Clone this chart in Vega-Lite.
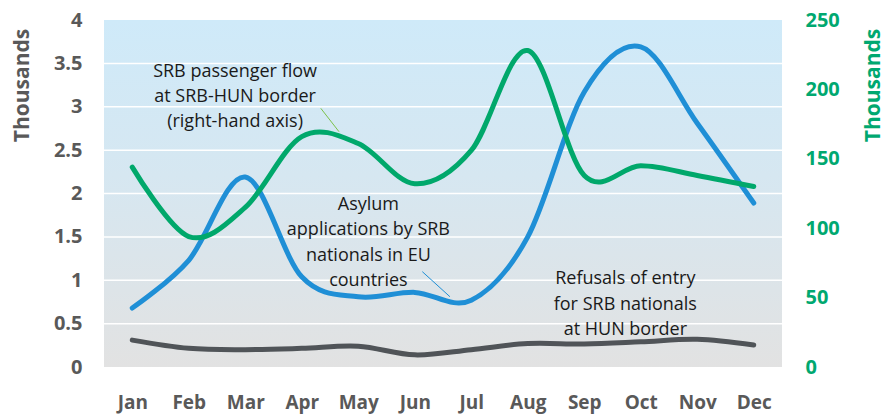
{
  "$schema": "https://vega.github.io/schema/vega-lite/v6.json",
  "width": 678,
  "height": 347,
  "autosize": {"type": "none"},
  "padding": {"left": 104, "top": 20, "right": 102, "bottom": 49},
  "background": "white",
  "config": {
    "view": {
      "stroke": null,
      "fill": {"gradient": "linear", "x1": 0, "y1": 0, "x2": 0, "y2": 1,
        "stops": [{"offset": 0, "color": "#cfeaf9"}, {"offset": 0.45, "color": "#d6e7f1"}, {"offset": 1, "color": "#e2e2e2"}]}
    },
    "axis": {"domain": false, "ticks": false, "grid": false, "labelFont": "Open Sans", "titleFont": "Open Sans"},
    "text": {"font": "Open Sans"}
  },
  "datasets": {
    "months": [
      {"m": 1, "month": "Jan", "asylum": 0.68, "refusals": 0.31, "flow": 144},
      {"m": 2, "month": "Feb", "asylum": 1.23, "refusals": 0.215, "flow": 94},
      {"m": 3, "month": "Mar", "asylum": 2.19, "refusals": 0.2, "flow": 115},
      {"m": 4, "month": "Apr", "asylum": 1.04, "refusals": 0.215, "flow": 166},
      {"m": 5, "month": "May", "asylum": 0.81, "refusals": 0.24, "flow": 161},
      {"m": 6, "month": "Jun", "asylum": 0.86, "refusals": 0.14, "flow": 132},
      {"m": 7, "month": "Jul", "asylum": 0.77, "refusals": 0.2, "flow": 156},
      {"m": 8, "month": "Aug", "asylum": 1.5, "refusals": 0.27, "flow": 228},
      {"m": 9, "month": "Sep", "asylum": 3.17, "refusals": 0.265, "flow": 138},
      {"m": 10, "month": "Oct", "asylum": 3.69, "refusals": 0.29, "flow": 145},
      {"m": 11, "month": "Nov", "asylum": 2.81, "refusals": 0.32, "flow": 138},
      {"m": 12, "month": "Dec", "asylum": 1.89, "refusals": 0.254, "flow": 130}
    ],
    "gridlines": [{"g": 0.5}, {"g": 1}, {"g": 1.5}, {"g": 2}, {"g": 2.5}, {"g": 3}, {"g": 3.5}],
    "notes": [
      {"x": 2.82, "y": 3.404, "label": "SRB passenger flow\nat SRB-HUN border\n(right-hand axis)"},
      {"x": 5.18, "y": 1.867, "label": "Asylum\napplications by SRB\nnationals in EU\ncountries"},
      {"x": 9.727, "y": 1.011, "label": "Refusals of entry\nfor SRB nationals\nat HUN border"}
    ],
    "connectors": [
      {"x": 4.337, "x2": 4.66, "y": 2.982, "y2": 2.712, "series": "flow"},
      {"x": 6.134, "x2": 6.623, "y": 1.099, "y2": 0.81, "series": "asylum"}
    ]
  },
  "layer": [
    {
      "layer": [
        {
          "data": {"name": "gridlines"},
          "mark": {"type": "rule", "color": "#ffffff", "strokeWidth": 1.5},
          "encoding": {
            "y": {"field": "g", "type": "quantitative", "title": "Thousands"}
          }
        },
        {
          "data": {"name": "months"},
          "mark": {"type": "line", "interpolate": "cardinal", "strokeWidth": 5, "strokeCap": "round", "color": "#1f8fd6"},
          "encoding": {
            "x": {"field": "m", "type": "quantitative", "title": null, "scale": {"domain": [0.5, 12.5], "nice": false, "zero": false},
              "axis": {"values": [1,2,3,4,5,6,7,8,9,10,11,12], "labelExpr": "['Jan','Feb','Mar','Apr','May','Jun','Jul','Aug','Sep','Oct','Nov','Dec'][datum.value-1]",
                "grid": false, "title": null, "labelFontSize": 19, "labelFontWeight": "bold", "labelColor": "#595959", "labelPadding": 26, "labelFlush": false}},
            "y": {"field": "asylum", "type": "quantitative", "title": "Thousands", "scale": {"domain": [0, 4], "nice": false},
              "axis": {"values": [0,0.5,1,1.5,2,2.5,3,3.5,4], "format": "~g", "title": "Thousands", "titleFontSize": 21, "titleFontWeight": "bold", "titleColor": "#595959",
                "titleAngle": 270, "titleAlign": "center", "titleBaseline": "middle", "titleX": -82, "titleY": 65,
                "labelFontSize": 20, "labelFontWeight": "bold", "labelColor": "#595959", "labelPadding": 22, "grid": false}}
          }
        },
        {
          "data": {"name": "months"},
          "mark": {"type": "line", "interpolate": "cardinal", "strokeWidth": 5, "strokeCap": "round", "color": "#505458"},
          "encoding": {
            "x": {"field": "m", "type": "quantitative", "title": null},
            "y": {"field": "refusals", "type": "quantitative", "title": "Thousands"}
          }
        },
        {
          "data": {"name": "connectors"},
          "mark": {"type": "rule", "strokeWidth": 1},
          "encoding": {
            "x": {"field": "x", "type": "quantitative", "title": null},
            "x2": {"field": "x2"},
            "y": {"field": "y", "type": "quantitative", "title": "Thousands"},
            "y2": {"field": "y2"},
            "color": {"field": "series", "type": "nominal", "scale": {"domain": ["flow", "asylum"], "range": ["#7cc24a", "#1f8fd6"]}, "legend": null}
          }
        },
        {
          "data": {"name": "notes"},
          "mark": {"type": "text", "align": "center", "baseline": "middle", "lineBreak": "\n", "lineHeight": 25.3, "fontSize": 18, "color": "#1a1a1a"},
          "encoding": {
            "x": {"field": "x", "type": "quantitative", "title": null},
            "y": {"field": "y", "type": "quantitative", "title": "Thousands"},
            "text": {"field": "label", "type": "nominal"}
          }
        }
      ]
    },
    {
      "data": {"name": "months"},
      "mark": {"type": "line", "interpolate": "cardinal", "strokeWidth": 5, "strokeCap": "round", "color": "#00a86b"},
      "encoding": {
        "x": {"field": "m", "type": "quantitative", "title": null},
        "y": {"field": "flow", "type": "quantitative", "scale": {"domain": [0, 250], "nice": false},
          "axis": {"orient": "right", "values": [0,50,100,150,200,250], "grid": false, "title": "Thousands", "titleFontSize": 21, "titleFontWeight": "bold", "titleColor": "#00a870",
            "titleAngle": 270, "titleAlign": "center", "titleBaseline": "middle", "titleX": 91, "titleY": 65,
            "labelFontSize": 20, "labelFontWeight": "bold", "labelColor": "#00a870", "labelPadding": 23}}
      }
    }
  ],
  "resolve": {"scale": {"y": "independent"}}
}
